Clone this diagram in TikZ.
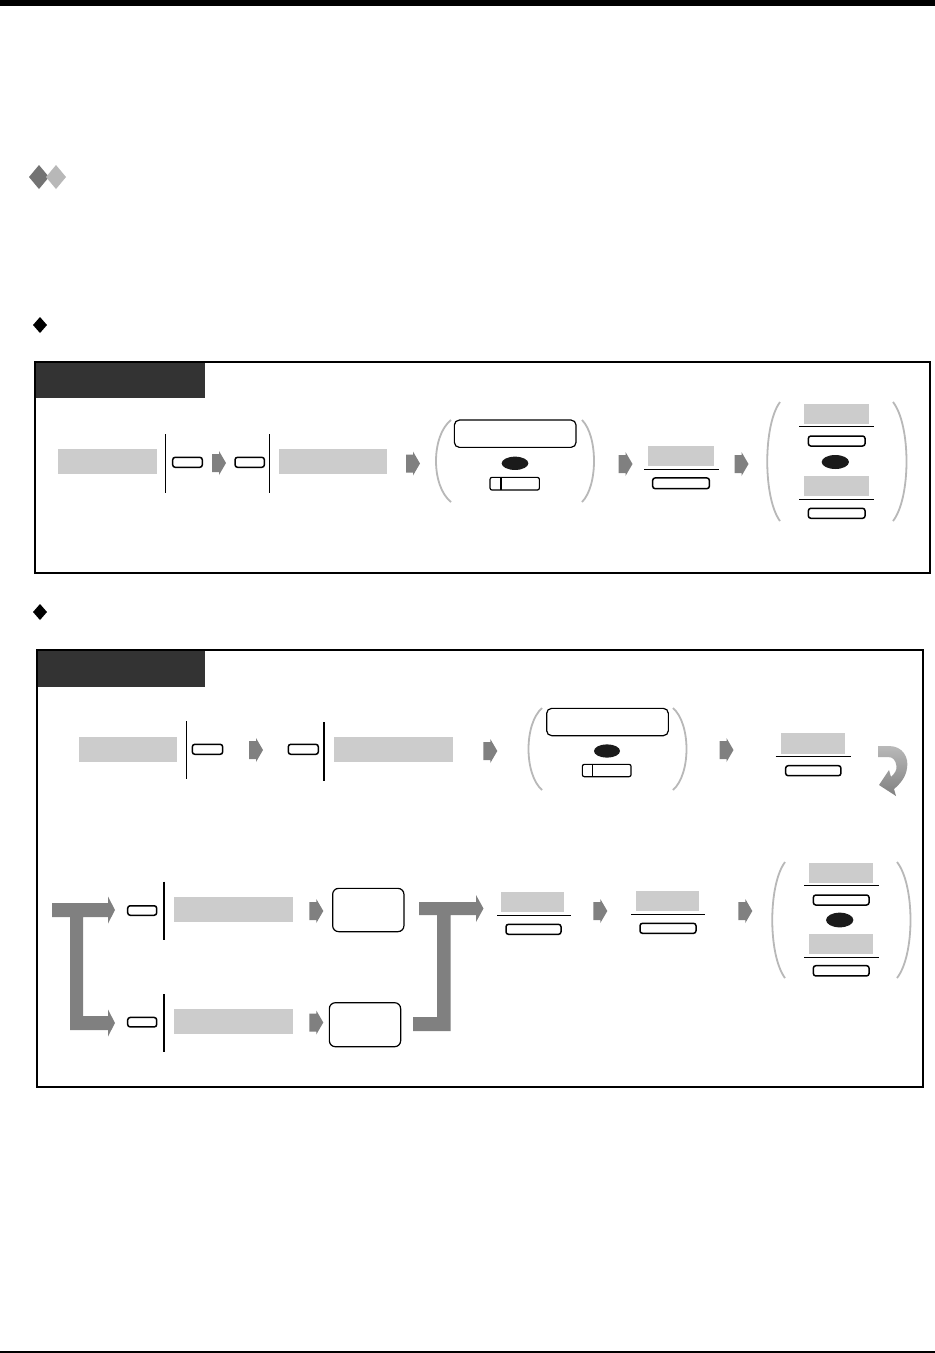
\documentclass[tikz,border=0pt]{standalone}
\usetikzlibrary{shapes.geometric}
\definecolor{hdr}{HTML}{333333}
\definecolor{lgray}{HTML}{CCCCCC}
\definecolor{pgray}{HTML}{B8B8B8}
\definecolor{agray}{HTML}{808080}
\definecolor{ablk}{HTML}{1A1A1A}
\begin{document}
\begin{tikzpicture}[x=1pt,y=-1pt,
  graybox/.style={fill=lgray,draw=none,inner sep=0,outer sep=0},
  keybox/.style={draw=black,fill=white,rounded corners=2.5pt,line width=1.5pt,inner sep=0,outer sep=0},
  bigkey/.style={draw=black,fill=white,rounded corners=5pt,line width=1.2pt,inner sep=0,outer sep=0},
  blackell/.style={ellipse,fill=ablk,draw=none,inner sep=0,outer sep=0},
  paren/.style={draw=pgray,line width=1.8pt},
  sepline/.style={draw=black,line width=1.5pt},
  rule/.style={draw=black,line width=1pt},
  frame/.style={draw=black,line width=2pt},
  garrow/.pic={\fill[agray] (0,-9) -- (7,-9) -- (7,-12) -- (14,0) -- (7,12) -- (7,9) -- (0,9) -- cycle;}
]
\useasboundingbox (0,0) rectangle (935,1353);
\fill[white] (0,0) rectangle (935,1353);
% page rules
\fill[black] (0,0) rectangle (935,6);
\fill[black] (0,1351) rectangle (935,1353);
% heading diamonds
\fill[agray!110] (39,165) -- (49,177) -- (39,189) -- (29,177) -- cycle;
\fill[pgray] (56,165) -- (66,177) -- (56,189) -- (46,177) -- cycle;
% bullets
\fill[black] (40,317) -- (47,325) -- (40,333) -- (33,325) -- cycle;
\fill[black] (40,604) -- (47,612) -- (40,620) -- (33,612) -- cycle;

% ================= BOX 1 =================
\draw[frame] (35,362) rectangle (930,573);
\fill[hdr] (36,363) rectangle (205,398);
\node[graybox,minimum width=98.4pt,minimum height=24.7pt] (g1) at (107.5,461.7) {};
\draw[sepline] (165.7,434) -- (165.7,493);
\node[keybox,minimum width=29.6pt,minimum height=10pt] (k1) at (187.5,462.3) {};
\pic at (212,463) {garrow};
\node[keybox,minimum width=29.3pt,minimum height=10pt] (k2) at (249.7,462.3) {};
\draw[sepline] (269.7,434) -- (269.7,493);
\node[graybox,minimum width=107.7pt,minimum height=24.7pt] (g2) at (332.8,461.7) {};
\pic at (406,463.5) {garrow};
\draw[paren] (451,420) .. controls (431,436) and (431,486) .. (451,502);
\node[bigkey,minimum width=121.7pt,minimum height=27.3pt] (bk1) at (515.2,433.7) {};
\node[blackell,minimum width=26.7pt,minimum height=13.3pt] (e1) at (515,463.3) {};
\node[keybox,line width=1.2pt,rounded corners=2pt,minimum width=49.3pt,minimum height=12.7pt] (s1) at (514.7,483.7) {};
\draw[line width=1.2pt] ([xshift=11pt]s1.north west) -- ([xshift=11pt]s1.south west);
\draw[paren] (582,420) .. controls (598,436) and (598,486) .. (582,502);
\pic at (618.5,464) {garrow};
\node[graybox,minimum width=66.3pt,minimum height=20pt] (g3) at (680.8,455.7) {};
\draw[rule] (644,469) -- (719,469);
\node[keybox,minimum width=56.7pt,minimum height=10.7pt] (k3) at (681,483.3) {};
\pic at (734.5,464) {garrow};
\draw[paren] (780,402) .. controls (763,425) and (763,498) .. (780,521);
\node[graybox,minimum width=65.3pt,minimum height=20pt] (g4) at (836.7,414) {};
\draw[rule] (799,426.7) -- (874.3,426.7);
\node[keybox,minimum width=56.7pt,minimum height=10pt] (k4) at (836.7,441) {};
\node[blackell,minimum width=27.3pt,minimum height=14pt] (e2) at (835.3,462) {};
\node[graybox,minimum width=65.3pt,minimum height=20pt] (g5) at (836.7,486) {};
\draw[rule] (799,499) -- (874.3,499);
\node[keybox,minimum width=56.7pt,minimum height=10pt] (k5) at (836.7,513.3) {};
\draw[paren] (893,402) .. controls (911,425) and (911,498) .. (893,521);

% ================= BOX 2 =================
\draw[frame] (36.7,650) rectangle (923.3,1086.7);
\fill[hdr] (37.7,651) rectangle (205,686.7);
% row 1
\node[graybox,minimum width=97.7pt,minimum height=25pt] (g6) at (127.8,749.2) {};
\draw[sepline] (186.7,721) -- (186.7,779);
\node[keybox,minimum width=30.3pt,minimum height=10pt] (k6) at (207.5,749.3) {};
\pic at (249,750) {garrow};
\node[keybox,minimum width=30pt,minimum height=10pt] (k7) at (303.3,749.3) {};
\draw[sepline] (324,722) -- (324,781);
\node[graybox,minimum width=118.7pt,minimum height=25pt] (g7) at (393.3,749.2) {};
\pic at (483.3,751) {garrow};
\draw[paren] (542,708) .. controls (524,724) and (524,774) .. (542,790);
\node[bigkey,minimum width=121.7pt,minimum height=27.3pt] (bk2) at (607.5,722) {};
\node[blackell,minimum width=26pt,minimum height=13.3pt] (e3) at (607,751) {};
\node[keybox,line width=1.2pt,rounded corners=2pt,minimum width=48.7pt,minimum height=12.3pt] (s2) at (606.7,770.5) {};
\draw[line width=1.2pt] ([xshift=10.4pt]s2.north west) -- ([xshift=10.4pt]s2.south west);
\draw[paren] (673,708) .. controls (691,724) and (691,774) .. (673,790);
\pic at (719.5,750) {garrow};
\node[graybox,minimum width=64pt,minimum height=21pt] (g8) at (813,743.5) {};
\draw[rule] (775.7,756.7) -- (850.7,756.7);
\node[keybox,minimum width=55.3pt,minimum height=10pt] (k8) at (813.3,770.7) {};
% return arrow
\shade[top color=agray!55,bottom color=agray] (878,746) -- (889,746) .. controls (903,746) and (909,758) .. (907,768) .. controls (906,777) and (900,784) .. (894,789) -- (896,796) -- (879,785) -- (889,770) -- (891,777) .. controls (895,773) and (897,770) .. (896.5,766) .. controls (895.5,760) and (893,757) .. (888,757) -- (878,757) -- cycle;
% brackets
\fill[agray] (52,903) -- (108,903) -- (108,896.5) -- (115,910) -- (108,923.5) -- (108,917) -- (83,917) -- (83,1016) -- (108,1016) -- (108,1009.5) -- (115,1023) -- (108,1036.5) -- (108,1030) -- (70,1030) -- (70,917) -- (52,917) -- cycle;
\fill[agray] (419,902) -- (476,902) -- (476,895) -- (483.5,908.5) -- (476,922) -- (476,915) -- (450.5,915) -- (450.5,1031) -- (413,1031) -- (413,1017) -- (437,1017) -- (437,915) -- (419,915) -- cycle;
% row 3
\node[keybox,minimum width=29pt,minimum height=9.5pt] (k9) at (142.2,910.5) {};
\draw[sepline] (164,881.7) -- (164,940);
\node[graybox,minimum width=119.3pt,minimum height=25pt] (g9) at (233.7,909.2) {};
\pic at (309.3,911) {garrow};
\node[bigkey,rounded corners=6pt,minimum width=71.3pt,minimum height=43.3pt] (b1) at (368.3,910) {};
\node[graybox,minimum width=63.3pt,minimum height=19.4pt] (g10) at (532.7,902) {};
\draw[rule] (497.3,915) -- (570.7,915);
\node[keybox,minimum width=55pt,minimum height=10pt] (k10) at (533.5,929.3) {};
\pic at (593.3,911) {garrow};
\node[graybox,minimum width=63.3pt,minimum height=19.7pt] (g11) at (667.7,900.8) {};
\draw[rule] (631,914) -- (705,914);
\node[keybox,minimum width=56pt,minimum height=10pt] (k11) at (668,928.3) {};
\pic at (738.3,911) {garrow};
\draw[paren] (785,862) .. controls (768,885) and (768,955) .. (785,978);
\node[graybox,minimum width=63.7pt,minimum height=20pt] (g12) at (840.8,872.7) {};
\draw[rule] (804,885) -- (879,885);
\node[keybox,minimum width=55.7pt,minimum height=10pt] (k12) at (841.2,900) {};
\node[blackell,minimum width=27.3pt,minimum height=14.7pt] (e4) at (839.7,920) {};
\node[graybox,minimum width=63.7pt,minimum height=20pt] (g13) at (840.8,944) {};
\draw[rule] (804,957.3) -- (879,957.3);
\node[keybox,minimum width=55.7pt,minimum height=10.3pt] (k13) at (841.2,970.8) {};
\draw[paren] (897,862) .. controls (915,885) and (915,955) .. (897,978);
% row 4
\node[keybox,minimum width=29pt,minimum height=9.5pt] (k14) at (142.2,1022.2) {};
\draw[sepline] (164,994) -- (164,1052.3);
\node[graybox,minimum width=119.3pt,minimum height=25pt] (g14) at (233.7,1021.5) {};
\pic at (309.3,1022.5) {garrow};
\node[bigkey,rounded corners=6pt,minimum width=71.3pt,minimum height=44pt] (b2) at (365,1024.7) {};
\end{tikzpicture}
\end{document}
